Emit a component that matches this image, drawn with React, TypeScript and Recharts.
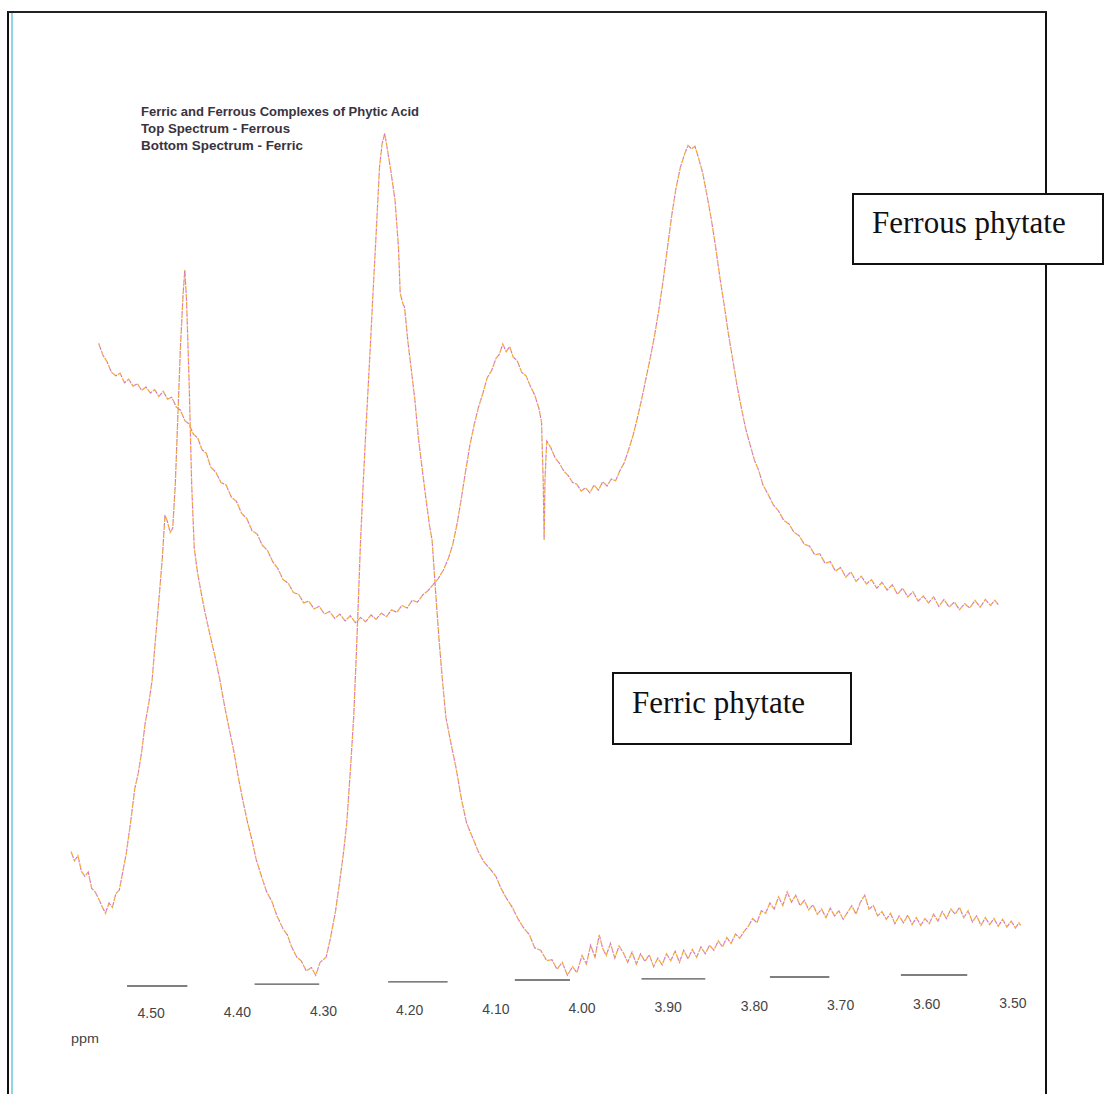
import React from 'react';
import { LineChart, Line, XAxis, YAxis, ReferenceLine } from 'recharts';

// [ppm, relative intensity]
const FERROUS: [number, number][] = [
  [4.561, 74.4], [4.556, 73.0], [4.551, 72.2], [4.546, 71.0], [4.541, 70.6], [4.536, 70.9], [4.531, 69.8],
  [4.526, 70.2], [4.521, 69.4], [4.516, 69.7], [4.511, 68.9], [4.506, 69.3], [4.501, 68.6], [4.496, 69.0],
  [4.491, 68.2], [4.486, 68.8], [4.481, 67.9], [4.476, 68.1], [4.471, 67.0], [4.466, 66.6], [4.461, 65.4],
  [4.456, 65.0], [4.451, 63.8], [4.446, 63.4], [4.441, 62.0], [4.436, 61.6], [4.431, 60.0], [4.425, 59.4],
  [4.419, 58.2], [4.413, 57.9], [4.407, 56.5], [4.401, 56.0], [4.395, 54.6], [4.389, 54.0], [4.383, 52.6],
  [4.377, 52.2], [4.371, 50.9], [4.365, 50.3], [4.359, 49.0], [4.353, 48.2], [4.347, 46.9], [4.341, 46.5],
  [4.335, 45.4], [4.329, 45.2], [4.323, 44.2], [4.317, 44.4], [4.311, 43.5], [4.305, 43.8], [4.299, 42.9],
  [4.293, 43.2], [4.287, 42.4], [4.281, 42.9], [4.275, 42.1], [4.269, 42.7], [4.263, 41.9], [4.257, 42.5],
  [4.251, 42.0], [4.245, 42.8], [4.239, 42.3], [4.233, 43.0], [4.227, 42.6], [4.221, 43.4], [4.215, 43.1],
  [4.209, 43.9], [4.203, 43.6], [4.197, 44.5], [4.191, 44.3], [4.185, 45.1], [4.179, 45.6], [4.173, 46.3],
  [4.167, 47.0], [4.161, 48.0], [4.155, 49.4], [4.150, 51.0], [4.145, 53.4], [4.140, 56.4], [4.135, 59.6],
  [4.130, 62.6], [4.125, 65.0], [4.120, 67.0], [4.115, 68.6], [4.110, 70.4], [4.105, 71.2], [4.100, 72.6],
  [4.096, 73.1], [4.092, 74.3], [4.088, 73.4], [4.084, 74.0], [4.080, 72.8], [4.075, 72.3], [4.070, 71.0],
  [4.065, 70.6], [4.060, 69.4], [4.055, 68.4], [4.050, 66.8], [4.047, 65.2], [4.045, 58.0], [4.044, 51.5],
  [4.043, 58.5], [4.041, 63.0], [4.036, 62.2], [4.031, 61.0], [4.026, 60.4], [4.021, 59.5], [4.016, 59.0],
  [4.011, 58.2], [4.006, 58.0], [4.001, 57.2], [3.996, 57.6], [3.991, 57.0], [3.986, 57.9], [3.981, 57.3],
  [3.976, 58.3], [3.971, 57.8], [3.966, 58.6], [3.961, 58.4], [3.956, 59.6], [3.951, 60.5], [3.946, 62.0],
  [3.941, 63.6], [3.936, 65.6], [3.931, 67.8], [3.926, 70.2], [3.921, 72.6], [3.916, 75.2], [3.911, 78.2],
  [3.906, 81.6], [3.901, 85.4], [3.896, 89.2], [3.891, 92.4], [3.886, 94.8], [3.881, 96.4], [3.877, 97.4],
  [3.873, 97.0], [3.869, 97.3], [3.865, 96.0], [3.860, 94.2], [3.855, 91.6], [3.850, 88.8], [3.845, 85.6],
  [3.840, 82.0], [3.835, 78.8], [3.830, 75.4], [3.825, 72.4], [3.820, 69.4], [3.815, 66.8], [3.810, 64.4],
  [3.805, 62.6], [3.800, 60.8], [3.795, 59.6], [3.790, 57.9], [3.784, 56.8], [3.778, 55.6], [3.772, 54.9],
  [3.766, 53.8], [3.760, 53.4], [3.754, 52.4], [3.748, 52.0], [3.742, 51.0], [3.736, 50.8], [3.730, 49.8],
  [3.724, 49.9], [3.718, 48.8], [3.712, 49.0], [3.706, 47.9], [3.700, 48.3], [3.694, 47.2], [3.688, 47.8],
  [3.682, 46.7], [3.676, 47.3], [3.670, 46.4], [3.664, 46.9], [3.658, 45.9], [3.652, 46.6], [3.646, 45.7],
  [3.640, 46.3], [3.634, 45.2], [3.628, 45.9], [3.622, 44.9], [3.616, 45.5], [3.610, 44.4], [3.604, 45.0],
  [3.598, 44.2], [3.592, 44.9], [3.586, 43.8], [3.580, 44.6], [3.574, 43.7], [3.568, 44.3], [3.562, 43.4],
  [3.556, 44.1], [3.550, 43.6], [3.544, 44.5], [3.538, 43.7], [3.532, 44.6], [3.526, 43.9], [3.521, 44.5],
  [3.517, 44.0],
];

const FERRIC: [number, number][] = [
  [4.593, 15.3], [4.589, 14.2], [4.585, 14.8], [4.581, 13.0], [4.577, 12.4], [4.573, 12.9], [4.569, 11.0],
  [4.565, 10.6], [4.561, 9.8], [4.557, 8.9], [4.553, 8.1], [4.549, 9.3], [4.545, 8.8], [4.541, 10.4],
  [4.537, 10.8], [4.533, 12.9], [4.529, 15.0], [4.524, 18.6], [4.519, 22.6], [4.515, 24.4], [4.511, 26.9],
  [4.507, 30.2], [4.503, 32.4], [4.499, 35.1], [4.495, 40.0], [4.491, 44.6], [4.487, 49.5], [4.484, 54.4],
  [4.481, 53.6], [4.478, 52.4], [4.475, 52.9], [4.472, 58.0], [4.469, 66.0], [4.466, 74.0], [4.463, 80.0],
  [4.461, 82.9], [4.459, 79.5], [4.456, 70.0], [4.453, 58.0], [4.450, 50.5], [4.446, 47.6], [4.442, 45.4],
  [4.438, 43.3], [4.432, 40.6], [4.426, 38.0], [4.420, 35.1], [4.415, 32.3], [4.410, 29.8], [4.404, 26.9],
  [4.399, 24.0], [4.394, 21.4], [4.388, 18.6], [4.383, 16.6], [4.378, 14.3], [4.372, 12.4], [4.366, 10.6],
  [4.360, 9.5], [4.354, 7.8], [4.347, 6.3], [4.342, 5.6], [4.337, 4.2], [4.331, 3.0], [4.326, 2.6],
  [4.320, 1.4], [4.314, 1.8], [4.309, 0.9], [4.304, 2.4], [4.297, 3.0], [4.292, 5.2], [4.286, 8.4],
  [4.281, 12.0], [4.277, 15.0], [4.273, 18.6], [4.269, 24.5], [4.265, 30.9], [4.262, 38.0], [4.260, 43.3],
  [4.257, 51.5], [4.254, 58.0], [4.251, 64.0], [4.247, 71.5], [4.243, 79.4], [4.239, 87.0], [4.235, 94.9],
  [4.232, 97.6], [4.229, 98.8], [4.226, 97.0], [4.222, 94.5], [4.217, 91.0], [4.213, 85.5], [4.211, 80.2],
  [4.208, 79.0], [4.206, 78.6], [4.202, 74.5], [4.198, 71.2], [4.194, 67.8], [4.190, 63.5], [4.186, 60.2],
  [4.181, 56.2], [4.177, 53.2], [4.174, 51.5], [4.170, 45.6], [4.166, 40.0], [4.162, 35.2], [4.158, 30.9],
  [4.152, 27.8], [4.146, 24.9], [4.140, 21.4], [4.134, 18.6], [4.127, 16.9], [4.120, 15.2], [4.114, 14.1],
  [4.107, 13.3], [4.100, 12.4], [4.094, 11.0], [4.088, 9.9], [4.081, 8.8], [4.074, 7.4], [4.067, 6.3],
  [4.061, 5.6], [4.055, 4.1], [4.048, 3.8], [4.041, 2.6], [4.035, 2.7], [4.029, 1.6], [4.023, 2.4],
  [4.017, 0.9], [4.011, 1.9], [4.006, 1.2], [4.000, 3.2], [3.995, 2.2], [3.990, 4.4], [3.985, 3.0],
  [3.980, 5.6], [3.976, 4.0], [3.972, 3.2], [3.967, 4.6], [3.962, 2.9], [3.957, 4.3], [3.952, 3.5],
  [3.947, 2.4], [3.942, 3.6], [3.937, 2.2], [3.932, 3.4], [3.927, 2.5], [3.922, 3.3], [3.917, 1.9],
  [3.912, 2.9], [3.907, 2.1], [3.902, 3.4], [3.897, 2.6], [3.892, 3.7], [3.887, 2.4], [3.882, 3.8],
  [3.877, 2.8], [3.872, 3.9], [3.867, 3.0], [3.862, 4.2], [3.857, 3.4], [3.852, 4.4], [3.847, 3.8],
  [3.842, 4.9], [3.837, 4.2], [3.832, 5.3], [3.827, 4.6], [3.822, 5.7], [3.817, 5.2], [3.812, 6.0],
  [3.807, 6.6], [3.802, 7.5], [3.797, 7.0], [3.792, 8.4], [3.787, 8.1], [3.782, 9.3], [3.777, 8.6],
  [3.772, 10.0], [3.767, 9.0], [3.762, 10.6], [3.757, 9.4], [3.752, 10.2], [3.747, 9.0], [3.742, 9.6],
  [3.737, 8.5], [3.732, 9.1], [3.727, 8.0], [3.722, 8.6], [3.717, 7.6], [3.712, 8.7], [3.707, 7.8],
  [3.702, 8.4], [3.697, 7.4], [3.692, 8.2], [3.687, 9.0], [3.682, 8.0], [3.677, 9.4], [3.672, 10.2],
  [3.667, 8.6], [3.662, 9.0], [3.657, 7.8], [3.652, 8.3], [3.647, 7.4], [3.642, 8.1], [3.637, 6.9],
  [3.632, 7.8], [3.627, 7.0], [3.622, 7.9], [3.617, 6.8], [3.612, 7.6], [3.607, 6.7], [3.602, 7.5],
  [3.597, 6.9], [3.592, 8.0], [3.587, 7.2], [3.582, 8.3], [3.577, 7.5], [3.572, 8.6], [3.567, 8.0],
  [3.562, 8.8], [3.557, 7.6], [3.552, 8.4], [3.547, 7.1], [3.542, 7.8], [3.537, 6.7], [3.532, 7.6],
  [3.527, 6.8], [3.522, 7.5], [3.517, 6.6], [3.512, 7.4], [3.507, 6.5], [3.502, 7.2], [3.497, 6.4],
  [3.493, 7.0], [3.491, 6.7],
];

const PPM_TICKS = [4.5, 4.4, 4.3, 4.2, 4.1, 4.0, 3.9, 3.8, 3.7, 3.6, 3.5];

// integral marks under the peaks
const INTEGRAL_FROM = [4.528, 4.38, 4.225, 4.078, 3.931, 3.782, 3.63];
const INTEGRAL_TO = [4.458, 4.305, 4.156, 4.014, 3.857, 3.713, 3.553];
const INTEGRAL_LEVEL = [-0.35, -0.12, 0.12, 0.35, 0.47, 0.7, 0.93];

const TITLE_LINES = [
  'Ferric and Ferrous Complexes of Phytic Acid',
  'Top Spectrum - Ferrous',
  'Bottom Spectrum - Ferric',
];

const toRows = (pts: [number, number][]) => pts.map(([ppm, v]) => ({ ppm, v }));

const ferrousRows = toRows(FERROUS);
const ferricRows = toRows(FERRIC);

const ORANGE = '#f2a93c';
const PINK = '#d47ac4';

function PpmTick(props: any) {
  const { x, y, payload } = props;
  const v = payload.value as number;
  // the scan is slightly tilted, labels creep up to the right
  const tilt = (4.5 - v) * 10;
  return (
    <text
      x={x}
      y={y + 27 - tilt}
      textAnchor="middle"
      fontFamily="'Liberation Sans', Arial, sans-serif"
      fontSize={14}
      fill="#454545"
    >
      {v.toFixed(2)}
    </text>
  );
}

export default function App() {
  const serif = "'Liberation Serif', 'Times New Roman', serif";
  const scanLine = (rows: { ppm: number; v: number }[], key: string) => [
    <Line key={`${key}-o`} data={rows} dataKey="v" type="linear" stroke={ORANGE} strokeWidth={1.3} strokeDasharray="4 4" dot={false} isAnimationActive={false} />,
    <Line key={`${key}-p`} data={rows} dataKey="v" type="linear" stroke={PINK} strokeWidth={1.2} strokeDasharray="3 5" strokeDashoffset={4} dot={false} isAnimationActive={false} />,
  ];
  return (
    <div style={{ position: 'absolute', left: 0, top: 0, width: 1105, height: 1094, background: '#fff', overflow: 'hidden' }}>
      {/* scanned page frame */}
      <div style={{ position: 'absolute', left: 7, top: 11, width: 1036, height: 1100, borderTop: '2px solid #222', borderLeft: '2px solid #111', borderRight: '2px solid #111' }} />
      <div style={{ position: 'absolute', left: 11, top: 13, width: 2, height: 1090, background: '#8fd6e2' }} />

      <LineChart
        width={1105}
        height={1094}
        margin={{ top: 123, right: 49, bottom: 81, left: 65 }}
        style={{ position: 'absolute', left: 0, top: 0 }}
      >
        <XAxis
          type="number"
          dataKey="ppm"
          domain={[3.45, 4.6]}
          reversed
          ticks={PPM_TICKS}
          interval={0}
          axisLine={false}
          tickLine={false}
          height={30}
          tick={<PpmTick />}
          allowDataOverflow
        />
        <YAxis hide type="number" domain={[0, 100]} allowDataOverflow />
        {INTEGRAL_FROM.map((from, i) => (
          <ReferenceLine
            key={`int-${i}`}
            segment={[
              { x: from, y: INTEGRAL_LEVEL[i] },
              { x: INTEGRAL_TO[i], y: INTEGRAL_LEVEL[i] },
            ]}
            stroke="#555"
            strokeWidth={1.3}
            ifOverflow="visible"
          />
        ))}
        {scanLine(ferricRows, 'ferric')}
        {scanLine(ferrousRows, 'ferrous')}
      </LineChart>

      {/* header block and axis unit */}
      <svg width={1105} height={1094} style={{ position: 'absolute', left: 0, top: 0, pointerEvents: 'none' }}>
        {TITLE_LINES.map((t, i) => (
          <text
            key={t}
            x={141}
            y={116 + i * 17}
            fontFamily="'Liberation Sans', Arial, sans-serif"
            fontWeight="bold"
            fontSize={12.5}
            fill="#3a3340"
            textLength={[278, 149, 162][i]}
            lengthAdjust="spacingAndGlyphs"
          >
            {t}
          </text>
        ))}
        <text x={71} y={1043} fontFamily="'Liberation Sans', Arial, sans-serif" fontSize={13} fill="#444" textLength={28} lengthAdjust="spacingAndGlyphs">
          ppm
        </text>
      </svg>

      {/* annotation boxes */}
      <div style={{ position: 'absolute', left: 852, top: 193, width: 248, height: 68, border: '2px solid #111', background: '#fff' }} />
      <div style={{ position: 'absolute', left: 872, top: 207, fontFamily: serif, fontSize: 31, lineHeight: '31px', color: '#111', whiteSpace: 'nowrap' }}>
        Ferrous phytate
      </div>
      <div style={{ position: 'absolute', left: 612, top: 672, width: 236, height: 69, border: '2px solid #111', background: '#fff' }} />
      <div style={{ position: 'absolute', left: 632, top: 687, fontFamily: serif, fontSize: 31, lineHeight: '31px', color: '#111', whiteSpace: 'nowrap' }}>
        Ferric phytate
      </div>
    </div>
  );
}
